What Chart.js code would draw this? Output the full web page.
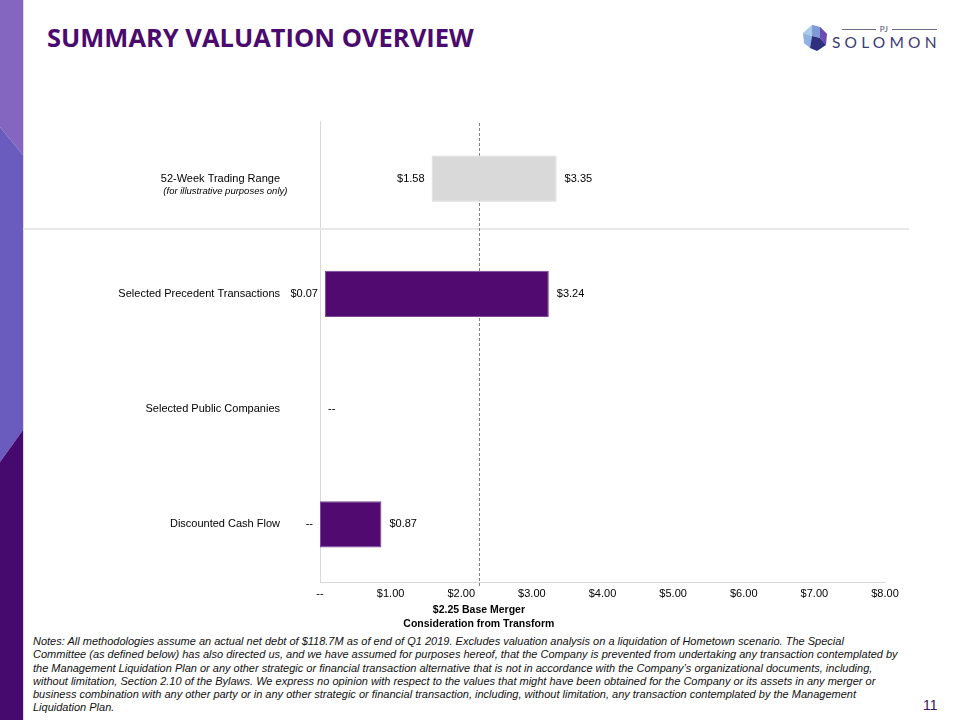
<!DOCTYPE html>
<html><head><meta charset="utf-8">
<script src="https://cdn.jsdelivr.net/npm/chart.js@4.4.1/dist/chart.umd.min.js"></script>
<style>
body{margin:0;width:960px;height:720px;position:relative;overflow:hidden;background:#fff;font-family:"Liberation Sans",Arial,sans-serif}
#strip{position:absolute;left:0;top:0}
#title{position:absolute;left:47px;top:22px;font-family:"Open Sans",sans-serif;font-weight:700;font-size:25.5px;line-height:30px;color:#4b0a6e;letter-spacing:0;white-space:nowrap}
#logo{position:absolute;left:800px;top:18px;width:140px;height:36px}
#chartWrap{position:absolute;left:0;top:100px;width:960px;height:530px}
#notes{position:absolute;left:33px;top:635px;font-style:italic;font-size:11px;line-height:13.3px;color:#111;white-space:nowrap}
#page{position:absolute;left:923px;top:697px;font-size:14px;color:#3c1460}
</style></head>
<body>
<svg id="strip" width="25" height="720">
  <polygon points="0,0 23,0 23,155 0,127" fill="#8466c0"/>
  <polygon points="0,127 23,155 23,430 0,462" fill="#6a5bbf"/>
  <polygon points="0,462 23,430 23,720 0,720" fill="#46096e"/>
  <line x1="23.5" y1="0" x2="23.5" y2="720" stroke="#e3d6f3" stroke-width="1"/>
</svg>
<div id="title">SUMMARY VALUATION OVERVIEW</div>
<svg id="logo" viewBox="0 0 140 36">
  <polygon points="3,15 12,7 20,9 12,18" fill="#a9cbe9"/>
  <polygon points="12,7 20,9 27,16 20,20 12,18" fill="#7e9bd8"/>
  <polygon points="20,9 27,16 26,27 20,20" fill="#6b4bb4"/>
  <polygon points="3,15 12,18 10,30 4,25" fill="#8fb2e2"/>
  <polygon points="12,18 20,20 26,27 17,33 10,30" fill="#2e2f7e"/>
  <line x1="42" y1="11.5" x2="76" y2="11.5" stroke="#6b6b8a" stroke-width="1"/>
  <line x1="92" y1="11.5" x2="137" y2="11.5" stroke="#6b6b8a" stroke-width="1"/>
  <text x="84" y="14" text-anchor="middle" font-family="Lato,sans-serif" font-size="8" fill="#4b4b70" letter-spacing="0.5">PJ</text>
  <text x="32" y="30" font-family="Lato,sans-serif" font-size="15.5" fill="#3a3a78" letter-spacing="4.2">SOLOMON</text>
</svg>
<div id="chartWrap"><canvas id="c" width="960" height="530"></canvas></div>
<div id="notes">Notes: All methodologies assume an actual net debt of $118.7M as of end of Q1 2019. Excludes valuation analysis on a liquidation of Hometown scenario. The Special<br>Committee (as defined below) has also directed us, and we have assumed for purposes hereof, that the Company is prevented from undertaking any transaction contemplated by<br>the Management Liquidation Plan or any other strategic or financial transaction alternative that is not in accordance with the Company’s organizational documents, including,<br>without limitation, Section 2.10 of the Bylaws. We express no opinion with respect to the values that might have been obtained for the Company or its assets in any merger or<br>business combination with any other party or in any other strategic or financial transaction, including, without limitation, any transaction contemplated by the Management<br>Liquidation Plan.</div>
<div id="page">11</div>
<script>
// ---- data ----
const categories = ['52-Week Trading Range', 'Selected Precedent Transactions', 'Selected Public Companies', 'Discounted Cash Flow'];
const categorySubLabels = ['(for illustrative purposes only)', '', '', ''];
const lowValues = [1.58, 0.07, 0, 0];
const highValues = [3.35, 3.24, 0, 0.87];
const xTickValues = [0, 1, 2, 3, 4, 5, 6, 7, 8];
const referenceValue = 2.25;
const referenceLabel = ['$2.25 Base Merger', 'Consideration from Transform'];

const fmt = v => v === 0 ? '--' : '$' + v.toFixed(2);
const FONT = '"Liberation Sans", Arial, sans-serif';

const decorPlugin = {
  id: 'decor',
  beforeDatasetsDraw(chart) {
    const {ctx, chartArea: a, scales: {x, y}} = chart;
    ctx.save();
    // row separator under first category
    const sy = Math.round(y.getPixelForValue(0.44));
    ctx.strokeStyle = '#e8e8e8'; ctx.lineWidth = 2;
    ctx.beginPath(); ctx.moveTo(23, sy); ctx.lineTo(909, sy); ctx.stroke();
    // reference dashed line
    const rx = Math.round(x.getPixelForValue(referenceValue)) + 0.5;
    ctx.strokeStyle = '#808080'; ctx.lineWidth = 1; ctx.setLineDash([3, 2]);
    ctx.beginPath(); ctx.moveTo(rx, a.top + 2); ctx.lineTo(rx, a.bottom + 4); ctx.stroke();
    ctx.restore();
  },
  afterDatasetsDraw(chart) {
    const {ctx, chartArea: a, scales: {x, y}} = chart;
    ctx.save();
    ctx.fillStyle = '#000';
    ctx.textBaseline = 'middle';
    ctx.font = '11px ' + FONT;
    categories.forEach((c, i) => {
      const yc = y.getPixelForValue(i);
      const lo = lowValues[i], hi = highValues[i];
      const xl = x.getPixelForValue(lo), xh = x.getPixelForValue(hi);
      if (lo !== hi) {
        ctx.textAlign = 'right';
        ctx.fillText(fmt(lo), xl - 7, yc);
      }
      ctx.textAlign = 'left';
      ctx.fillText(fmt(hi), xh + 8, yc);
    });
    // sub labels (italic) under category names
    ctx.textAlign = 'center';
    categorySubLabels.forEach((s, i) => {
      if (!s) return;
      const yc = y.getPixelForValue(i);
      ctx.font = '11px ' + FONT;
      const w = ctx.measureText(categories[i]).width;
      const cx = y.right - 40 - w / 2;
      ctx.font = 'italic 9.5px ' + FONT;
      ctx.fillText(s, cx + 5, yc + 13);
    });
    // reference label
    const rx = x.getPixelForValue(referenceValue);
    ctx.font = 'bold 10.5px ' + FONT;
    ctx.textAlign = 'center';
    referenceLabel.forEach((t, k) => ctx.fillText(t, rx, a.bottom + 28 + k * 14));
    ctx.restore();
  }
};

new Chart(document.getElementById('c'), {
  type: 'bar',
  data: {
    labels: categories,
    datasets: [{
      data: lowValues.map((l, i) => [l, highValues[i]]),
      backgroundColor: ['#d9d9d9', '#500a70', '#500a70', '#500a70'],
      borderColor: ['#d9d9d9', '#7a4a98', '#7a4a98', '#7a4a98'],
      borderWidth: 1,
      borderSkipped: false,
      barPercentage: 0.4,
      categoryPercentage: 1
    }]
  },
  options: {
    indexAxis: 'y',
    responsive: false,
    animation: false,
    devicePixelRatio: 1,
    layout: {padding: {left: 0, right: 75, top: 21, bottom: 0}},
    plugins: {legend: {display: false}, tooltip: {enabled: false}},
    scales: {
      x: {
        type: 'linear', min: 0, max: 8,
        afterBuildTicks: s => { s.ticks = xTickValues.map(v => ({value: v})); },
        afterFit: s => { s.height = 48; },
        grid: {display: false, drawTicks: false},
        border: {display: true, color: '#d9d9d9', width: 1},
        ticks: {color: '#000', font: {size: 11, family: FONT}, padding: 5, maxRotation: 0, callback: v => fmt(v)}
      },
      y: {
        afterFit: s => { s.width = 320; s.paddingTop = 0; s.paddingBottom = 0; },
        grid: {display: false, drawTicks: false},
        border: {display: true, color: '#d9d9d9', width: 1},
        ticks: {color: '#000', font: {size: 11, family: FONT}, padding: 40}
      }
    }
  },
  plugins: [decorPlugin]
});
</script>
</body></html>
